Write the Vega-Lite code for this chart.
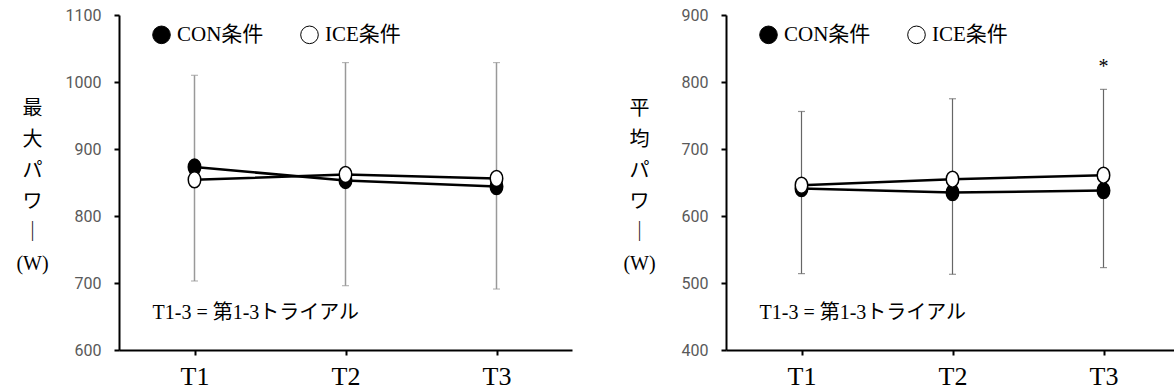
{
  "$schema": "https://vega.github.io/schema/vega-lite/v6.json",
  "background": "white",
  "padding": {"left": 15, "top": 7, "right": 0, "bottom": 0},
  "spacing": 50,
  "datasets": {
    "peak": [
      {"trial": "T1", "cond": "CON条件", "watt": 873},
      {"trial": "T2", "cond": "CON条件", "watt": 853},
      {"trial": "T3", "cond": "CON条件", "watt": 844},
      {"trial": "T1", "cond": "ICE条件", "watt": 854},
      {"trial": "T2", "cond": "ICE条件", "watt": 862},
      {"trial": "T3", "cond": "ICE条件", "watt": 856}
    ],
    "peakSd": [
      {"trial": "T1", "lo": 703, "hi": 1010},
      {"trial": "T2", "lo": 696, "hi": 1029},
      {"trial": "T3", "lo": 691, "hi": 1029}
    ],
    "mean": [
      {"trial": "T1", "cond": "CON条件", "watt": 641},
      {"trial": "T2", "cond": "CON条件", "watt": 635},
      {"trial": "T3", "cond": "CON条件", "watt": 638},
      {"trial": "T1", "cond": "ICE条件", "watt": 646},
      {"trial": "T2", "cond": "ICE条件", "watt": 655},
      {"trial": "T3", "cond": "ICE条件", "watt": 661}
    ],
    "meanSd": [
      {"trial": "T1", "lo": 514, "hi": 756},
      {"trial": "T2", "lo": 513, "hi": 775},
      {"trial": "T3", "lo": 523, "hi": 789}
    ],
    "peakNote": [
      {"trial": "T1", "watt": 655, "note": "T1-3 = 第1-3トライアル"}
    ],
    "meanNote": [
      {"trial": "T1", "watt": 455, "note": "T1-3 = 第1-3トライアル"}
    ],
    "meanSig": [
      {"trial": "T3", "watt": 822, "note": "*"}
    ]
  },
  "config": {
    "view": {"stroke": null},
    "axis": {
      "grid": false,
      "domainColor": "black",
      "domainWidth": 2,
      "tickColor": "black",
      "tickWidth": 2,
      "tickSize": 5
    },
    "axisX": {
      "labelAngle": 0,
      "labelFont": "Liberation Serif",
      "labelFontSize": 26,
      "labelColor": "black",
      "labelPadding": 8
    },
    "axisY": {
      "format": "d",
      "labelFont": "Roboto",
      "labelFontSize": 16,
      "labelColor": "#595959",
      "labelPadding": 13,
      "titleFont": "Liberation Serif, Noto Sans CJK JP",
      "titleFontSize": 20,
      "titleFontWeight": "normal",
      "titleColor": "black",
      "titleAngle": 0,
      "titleAlign": "center",
      "titleBaseline": "middle",
      "titleLineHeight": 31,
      "titleX": -87,
      "titleY": 93
    },
    "legend": {
      "orient": "none",
      "legendX": 32,
      "legendY": 9,
      "direction": "horizontal",
      "padding": 0,
      "symbolType": "circle",
      "symbolSize": 310,
      "symbolStrokeColor": "black",
      "symbolStrokeWidth": 1,
      "labelFont": "Liberation Serif, Noto Sans CJK JP",
      "labelFontSize": 21,
      "labelColor": "black",
      "labelOffset": 5,
      "columnPadding": 34
    }
  },
  "resolve": {
    "scale": {"x": "independent", "y": "independent", "fill": "independent"},
    "legend": {"fill": "independent"}
  },
  "hconcat": [
    {
      "width": 453,
      "height": 335,
      "encoding": {
        "x": {"field": "trial", "type": "ordinal", "scale": {"type": "point", "padding": 0.5, "domain": ["T1", "T2", "T3"]}, "axis": {"title": null}}
      },
      "layer": [
        {
          "data": {"name": "peakSd"},
          "mark": {"type": "errorbar", "ticks": {"size": 7, "color": "#999999", "thickness": 1.2}, "rule": {"color": "#999999", "strokeWidth": 1.5}},
          "encoding": {
            "y": {"field": "lo", "type": "quantitative", "scale": {"domain": [600, 1100], "nice": false, "zero": false},
                  "axis": {"values": [600, 700, 800, 900, 1000, 1100], "title": ["最", "大", "パ", "ワ", "｜", "(W)"]}},
            "y2": {"field": "hi"}
          }
        },
        {
          "data": {"name": "peak"},
          "mark": {"type": "line", "color": "black", "strokeWidth": 2.5},
          "encoding": {
            "y": {"field": "watt", "type": "quantitative"},
            "detail": {"field": "cond"}
          }
        },
        {
          "data": {"name": "peak"},
          "mark": {"type": "point", "filled": false, "opacity": 1, "stroke": "black", "strokeWidth": 1.5, "size": 256,
                   "shape": "M -0.78 0 A 0.78 1 0 1 0 0.78 0 A 0.78 1 0 1 0 -0.78 0 Z"},
          "encoding": {
            "y": {"field": "watt", "type": "quantitative"},
            "fill": {"field": "cond", "type": "nominal", "scale": {"domain": ["CON条件", "ICE条件"], "range": ["black", "white"]}, "legend": {"title": null}}
          }
        },
        {
          "data": {"name": "peakNote"},
          "mark": {"type": "text", "align": "left", "baseline": "middle", "dx": -42, "font": "Liberation Serif, Noto Sans CJK JP", "fontSize": 20, "color": "black"},
          "encoding": {
            "y": {"field": "watt", "type": "quantitative"},
            "text": {"field": "note"}
          }
        }
      ]
    },
    {
      "width": 453,
      "height": 335,
      "encoding": {
        "x": {"field": "trial", "type": "ordinal", "scale": {"type": "point", "padding": 0.5, "domain": ["T1", "T2", "T3"]}, "axis": {"title": null}}
      },
      "layer": [
        {
          "data": {"name": "meanSd"},
          "mark": {"type": "errorbar", "ticks": {"size": 7, "color": "#666666", "thickness": 1.2}, "rule": {"color": "#666666", "strokeWidth": 1.2}},
          "encoding": {
            "y": {"field": "lo", "type": "quantitative", "scale": {"domain": [400, 900], "nice": false, "zero": false},
                  "axis": {"values": [400, 500, 600, 700, 800, 900], "title": ["平", "均", "パ", "ワ", "｜", "(W)"]}},
            "y2": {"field": "hi"}
          }
        },
        {
          "data": {"name": "mean"},
          "mark": {"type": "line", "color": "black", "strokeWidth": 2.5},
          "encoding": {
            "y": {"field": "watt", "type": "quantitative"},
            "detail": {"field": "cond"}
          }
        },
        {
          "data": {"name": "mean"},
          "mark": {"type": "point", "filled": false, "opacity": 1, "stroke": "black", "strokeWidth": 1.5, "size": 256,
                   "shape": "M -0.78 0 A 0.78 1 0 1 0 0.78 0 A 0.78 1 0 1 0 -0.78 0 Z"},
          "encoding": {
            "y": {"field": "watt", "type": "quantitative"},
            "fill": {"field": "cond", "type": "nominal", "scale": {"domain": ["CON条件", "ICE条件"], "range": ["black", "white"]}, "legend": {"title": null}}
          }
        },
        {
          "data": {"name": "meanNote"},
          "mark": {"type": "text", "align": "left", "baseline": "middle", "dx": -42, "font": "Liberation Serif, Noto Sans CJK JP", "fontSize": 20, "color": "black"},
          "encoding": {
            "y": {"field": "watt", "type": "quantitative"},
            "text": {"field": "note"}
          }
        },
        {
          "data": {"name": "meanSig"},
          "mark": {"type": "text", "align": "center", "baseline": "middle", "font": "Liberation Serif", "fontSize": 20, "color": "black"},
          "encoding": {
            "y": {"field": "watt", "type": "quantitative"},
            "text": {"field": "note"}
          }
        }
      ]
    }
  ]
}
